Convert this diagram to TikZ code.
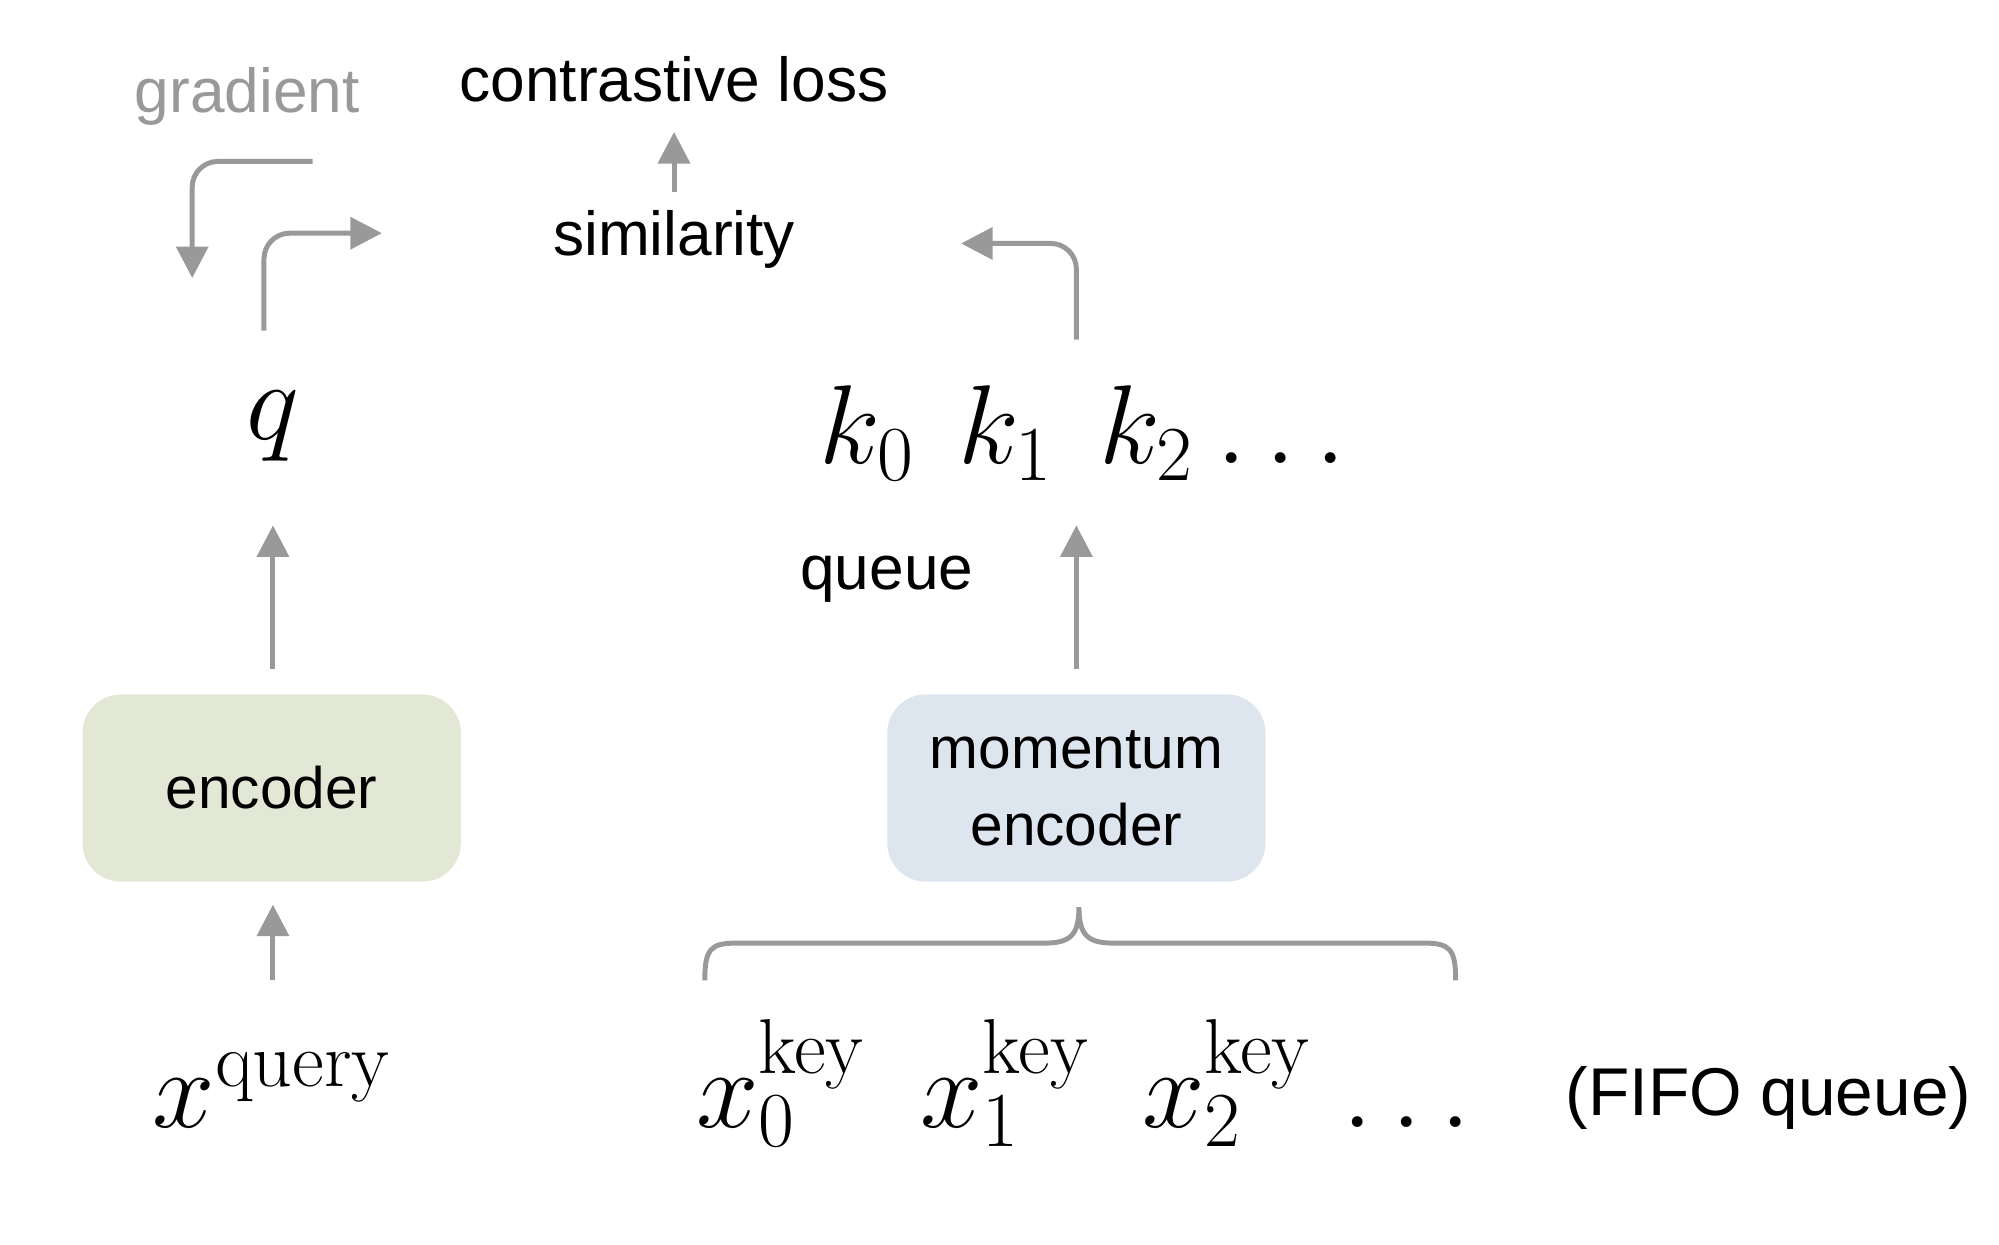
\documentclass[tikz,border=0pt]{standalone}
\usepackage[no-math]{fontspec}
\setmainfont{Liberation Sans}
\usetikzlibrary{arrows.meta}
\definecolor{ar}{HTML}{999999}
\definecolor{encg}{HTML}{E2E8D5}
\definecolor{encb}{HTML}{DDE6EE}
\begin{document}
\begin{tikzpicture}[x=0.01cm,y=-0.01cm,
  lab/.style={font=\fontsize{13.8}{16}\selectfont},
  mth/.style={font=\fontsize{25}{28}\selectfont,inner sep=0pt},
  arr/.style={draw=ar,line width=1.1pt,-{Triangle[length=7pt,width=7pt]}},
  box/.style={rounded corners=0.3cm,minimum width=2.95cm,minimum height=1.46cm,align=center,font=\fontsize{13}{17}\selectfont}]
\useasboundingbox (0,0) rectangle (1560,971);
\node[lab,text=ar] (grad) at (193,75) {gradient};
\node[lab] (loss) at (526,62) {contrastive loss};
\node[lab] (sim) at (526,187) {similarity};
\coordinate (simb) at (526,150);
\coordinate (losb) at (526,103);
\draw[arr] (simb) -- (losb);
\coordinate (g1) at (244,126); \coordinate (g2) at (150,126); \coordinate (g3) at (150,217);
\draw[arr,rounded corners=0.2cm] (g1) -- (g2) -- (g3);
\coordinate (f1) at (206,258); \coordinate (f2) at (206,182); \coordinate (f3) at (298,182);
\draw[arr,rounded corners=0.2cm] (f1) -- (f2) -- (f3);
\coordinate (r1) at (840,265); \coordinate (r2) at (840,190); \coordinate (r3) at (750,190);
\draw[arr,rounded corners=0.2cm] (r1) -- (r2) -- (r3);
\node[mth] (q) at (213,333) {$q$};
\node[mth,anchor=base] (k0) at (677,362) {$k_0$};
\node[mth,anchor=base] (k1) at (785,362) {$k_1$};
\node[mth,anchor=base] (k2) at (895,362) {$k_2$};
\node[mth,anchor=base] (kd) at (1000,362) {$\ldots$};
\node[lab] (queue) at (692,452) {queue};
\node[box,fill=encg] (enc) at (212,615) {encoder};
\node[box,fill=encb] (menc) at (840,615) {momentum\\encoder};
\coordinate (qa) at (213,522); \coordinate (qb) at (213,410);
\draw[arr] (qa) -- (qb);
\coordinate (ka) at (840,522); \coordinate (kb) at (840,410);
\draw[arr] (ka) -- (kb);
\coordinate (xa) at (213,765); \coordinate (xb) at (213,706);
\draw[arr] (xa) -- (xb);
\draw[ar,line width=1.1pt] (550,765) .. controls (550,740) and (555,736) .. (575,736) -- (815,736) .. controls (835,736) and (842,730) .. (842,708)
  .. controls (842,730) and (849,736) .. (869,736) -- (1111,736) .. controls (1131,736) and (1136,740) .. (1136,765);
\node[mth,anchor=base] (xq) at (213,880) {$x^{\mathrm{query}}$};
\node[mth,anchor=base] (x0) at (610,880) {$x_0^{\mathrm{key}}$};
\node[mth,anchor=base] (x1) at (785,880) {$x_1^{\mathrm{key}}$};
\node[mth,anchor=base] (x2) at (958,880) {$x_2^{\mathrm{key}}$};
\node[mth,anchor=base] (xd) at (1098,880) {$\ldots$};
\node[lab,font=\fontsize{15}{18}\selectfont] (fifo) at (1380,857) {(FIFO queue)};
\end{tikzpicture}
\end{document}
